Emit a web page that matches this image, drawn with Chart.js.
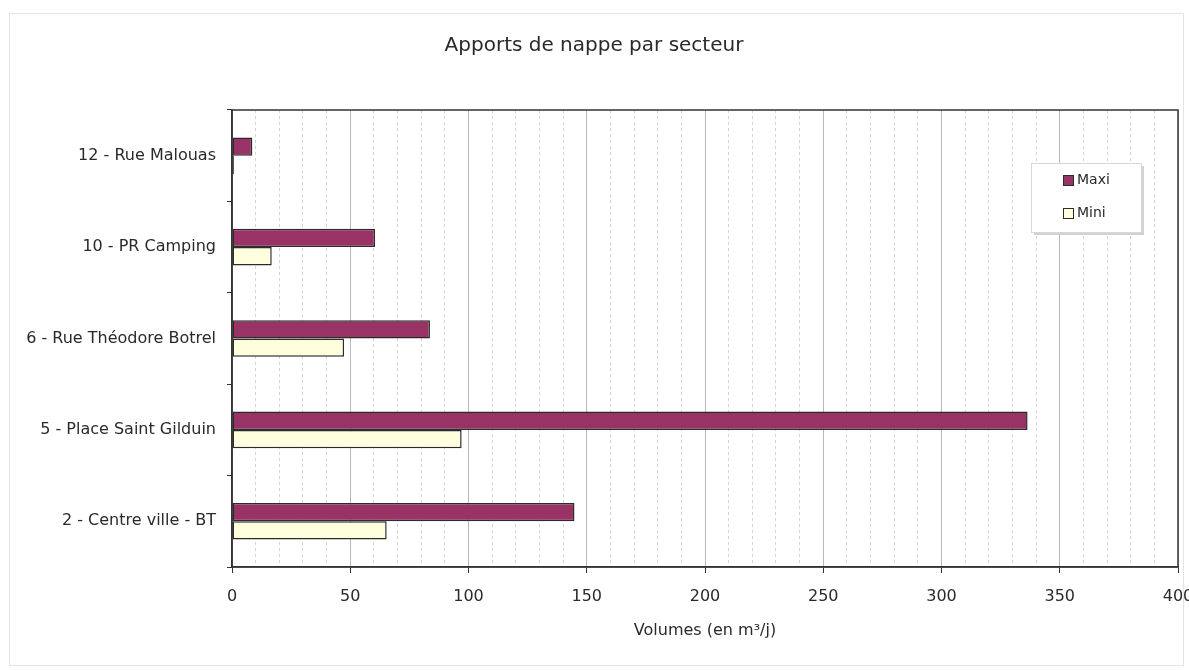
<!DOCTYPE html>
<html lang="fr">
<head>
<meta charset="utf-8">
<title>Apports de nappe par secteur</title>
<script src="https://cdn.jsdelivr.net/npm/chart.js@4/dist/chart.umd.min.js"></script>
<style>
    html, body { margin: 0; padding: 0; background: #fff; overflow: hidden; }
    #wrap { position: relative; width: 1189px; height: 671px; }
    #frame { position: absolute; left: 9px; top: 13px; right: 5px; bottom: 5px; border: 1px solid #e4e4e4; pointer-events: none; }
</style>
</head>
<body>
<div id="wrap">
    <canvas id="apports" width="1189" height="671"></canvas>
    <div id="frame"></div>
</div>
<script>
// Secteurs, du haut vers le bas
const sectors = ['12 - Rue Malouas', '10 - PR Camping', '6 - Rue Théodore Botrel', '5 - Place Saint Gilduin', '2 - Centre ville - BT'];
// Volumes en m3/j
const maxiValues = [8.6, 60.5, 83.7, 336.4, 144.8];
const miniValues = [0.8, 16.8, 47.4, 97.1, 65.4];
const seriesNames = ['Maxi', 'Mini'];
const xMin = 0;
const xMax = 400;
const xStep = 10;
const xLabelStep = 50;

const FONT = "'DejaVu Sans', Verdana, sans-serif";

const colors = {
    maxi: '#993366',
    mini: '#ffffdd',
    barBorder: '#2b2b2b',
    frame: '#333333',
    majorGrid: '#b8b8b8',
    minorGrid: '#d4d4d4',
    text: '#2a2a2a'
};

// Cadre de la zone de tracé (bordure sur les 4 côtés)
const plotFrame = {
    id: 'plotFrame',
    afterDraw(chart) {
        const { ctx, chartArea: a } = chart;
        ctx.save();
        ctx.strokeStyle = colors.frame;
        ctx.lineWidth = 1.5;
        ctx.strokeRect(a.left, a.top, a.right - a.left, a.bottom - a.top);
        ctx.restore();
    }
};

// Légende encadrée, placée dans la zone de tracé en haut à droite
const boxLegend = {
    id: 'boxLegend',
    afterDraw(chart) {
        const { ctx, chartArea: a } = chart;
        const x = a.right - 147, y = a.top + 53, w = 110, h = 69;
        ctx.save();
        ctx.fillStyle = '#d2d2d2';
        ctx.fillRect(x + 3, y + 3, w, h);
        ctx.fillStyle = '#ffffff';
        ctx.fillRect(x, y, w, h);
        ctx.strokeStyle = '#d8d8d8';
        ctx.lineWidth = 1;
        ctx.strokeRect(x + 0.5, y + 0.5, w, h);
        ctx.font = '14px ' + FONT;
        ctx.textBaseline = 'middle';
        chart.data.datasets.forEach((ds, i) => {
            const cy = y + 17 + i * 33;
            ctx.fillStyle = ds.backgroundColor;
            ctx.fillRect(x + 32, cy - 5, 11, 11);
            ctx.strokeStyle = ds.borderColor;
            ctx.strokeRect(x + 32.5, cy - 4.5, 10, 10);
            ctx.fillStyle = colors.text;
            ctx.fillText(ds.label, x + 46, cy);
        });
        ctx.restore();
    }
};

const makeDataset = (label, values, fill) => ({
    label: label,
    data: values,
    backgroundColor: fill,
    borderColor: colors.barBorder,
    borderWidth: 1.5,
    borderSkipped: false,
    categoryPercentage: 0.4,
    barPercentage: 1.0
});

new Chart(document.getElementById('apports'), {
    type: 'bar',
    data: {
        labels: sectors,
        datasets: [
            makeDataset(seriesNames[0], maxiValues, colors.maxi),
            makeDataset(seriesNames[1], miniValues, colors.mini)
        ]
    },
    options: {
        indexAxis: 'y',
        responsive: false,
        animation: false,
        layout: { padding: { left: 10, right: 11, top: 0, bottom: 0 } },
        plugins: {
            legend: { display: false },
            tooltip: { enabled: false },
            title: {
                display: true,
                text: 'Apports de nappe par secteur',
                color: colors.text,
                font: { family: FONT, size: 20, weight: 'normal' },
                padding: { top: 34, bottom: 52 }
            }
        },
        scales: {
            x: {
                type: 'linear',
                min: xMin,
                max: xMax,
                ticks: {
                    stepSize: xStep,
                    autoSkip: false,
                    maxRotation: 0,
                    color: colors.text,
                    padding: 14,
                    font: { family: FONT, size: 16 },
                    callback: (v) => (v % xLabelStep === 0 ? String(v) : '')
                },
                grid: {
                    drawTicks: true,
                    tickLength: 6,
                    lineWidth: 1,
                    color: (c) => (c.tick && c.tick.value % xLabelStep === 0 ? colors.majorGrid : colors.minorGrid),
                    tickColor: (c) => (c.tick && c.tick.value % xLabelStep === 0 ? colors.frame : 'rgba(0,0,0,0)')
                },
                border: {
                    display: true,
                    color: colors.frame,
                    width: 1.5,
                    dash: (c) => (c.tick && c.tick.value % xLabelStep === 0 ? [] : [3, 3])
                },
                title: {
                    display: true,
                    text: 'Volumes (en m³/j)',
                    color: colors.text,
                    font: { family: FONT, size: 16 },
                    padding: { top: 4, bottom: 31 }
                },
                afterFit: (scale) => {
                    scale.height = 104;
                    // le libellé « 400 » peut déborder à droite
                    scale.paddingRight = 0;
                    scale.paddingLeft = 0;
                }
            },
            y: {
                ticks: {
                    color: colors.text,
                    padding: 11,
                    font: { family: FONT, size: 16 }
                },
                grid: {
                    offset: true,
                    drawOnChartArea: false,
                    drawTicks: true,
                    tickLength: 5,
                    tickColor: colors.frame
                },
                border: { display: true, color: colors.frame, width: 1.5 },
                afterFit: (scale) => { scale.width = 222; }
            }
        }
    },
    plugins: [plotFrame, boxLegend]
});
</script>
</body>
</html>
